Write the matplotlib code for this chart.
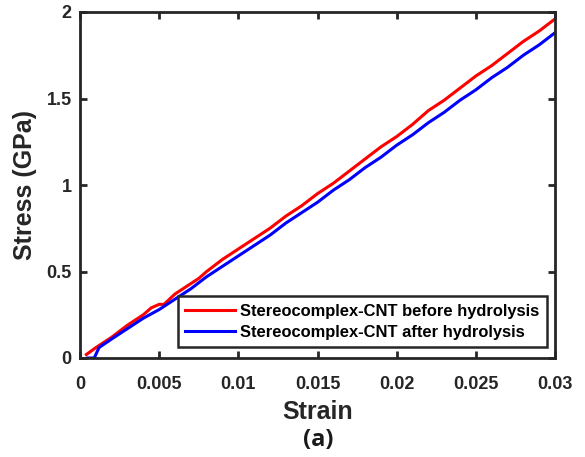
import matplotlib
matplotlib.use("Agg")
import matplotlib.pyplot as plt
from matplotlib.ticker import FixedLocator, FixedFormatter

plt.rcParams['font.family'] = ['Liberation Sans', 'DejaVu Sans']

red_x = [0.0004, 0.001, 0.002, 0.003, 0.004, 0.0045, 0.005, 0.0053, 0.006, 0.007, 0.0075, 0.008,
         0.009, 0.010, 0.011, 0.012, 0.013, 0.014, 0.015, 0.016, 0.017, 0.018, 0.019, 0.020,
         0.021, 0.022, 0.023, 0.024, 0.025, 0.026, 0.027, 0.028, 0.029, 0.030]
red_y = [0.02, 0.06, 0.12, 0.19, 0.25, 0.29, 0.31, 0.31, 0.37, 0.43, 0.46, 0.50,
         0.57, 0.63, 0.69, 0.75, 0.82, 0.88, 0.95, 1.01, 1.08, 1.15, 1.22, 1.28,
         1.35, 1.43, 1.49, 1.56, 1.63, 1.69, 1.76, 1.83, 1.89, 1.96]
blue_x = [0.0005, 0.0009, 0.0012, 0.002, 0.003, 0.004, 0.005, 0.006, 0.007, 0.008, 0.009, 0.010,
          0.011, 0.012, 0.013, 0.014, 0.015, 0.016, 0.017, 0.018, 0.019, 0.020, 0.021, 0.022,
          0.023, 0.024, 0.025, 0.026, 0.027, 0.028, 0.029, 0.030]
blue_y = [0.0, 0.0, 0.06, 0.11, 0.17, 0.23, 0.28, 0.34, 0.40, 0.47, 0.53, 0.59,
          0.65, 0.71, 0.78, 0.84, 0.90, 0.97, 1.03, 1.10, 1.16, 1.23, 1.29, 1.36,
          1.42, 1.49, 1.55, 1.62, 1.68, 1.75, 1.81, 1.88]
labels = ["Stereocomplex-CNT before hydrolysis", "Stereocomplex-CNT after hydrolysis"]
x_ticks = [0, 0.005, 0.01, 0.015, 0.02, 0.025, 0.03]
x_ticklabels = ["0", "0.005", "0.01", "0.015", "0.02", "0.025", "0.03"]
y_ticks = [0, 0.5, 1, 1.5, 2]
y_ticklabels = ["0", "0.5", "1", "1.5", "2"]

fig = plt.figure(figsize=(5.85, 4.57), dpi=100)
ax = fig.add_axes([80/585, 1-358/457, 475/585, 346/457])
ax.plot(red_x, red_y, color='#ff0000', lw=2.2, label=labels[0])
ax.plot(blue_x, blue_y, color='#0000ff', lw=2.2, label=labels[1])
ax.set_xlim(0, 0.03)
ax.set_ylim(0, 2)
ax.xaxis.set_major_locator(FixedLocator(x_ticks))
ax.xaxis.set_major_formatter(FixedFormatter(x_ticklabels))
ax.yaxis.set_major_locator(FixedLocator(y_ticks))
ax.yaxis.set_major_formatter(FixedFormatter(y_ticklabels))
gc = '#262626'
for s in ax.spines.values():
    s.set_linewidth(2.0)
    s.set_color(gc)
ax.tick_params(direction='in', length=5, width=2, colors=gc, top=True, right=True,
               labelsize=13)
ax.tick_params(axis='x', pad=13)
ax.tick_params(axis='y', pad=6)
for t in ax.get_xticklabels() + ax.get_yticklabels():
    t.set_fontweight('bold')
ax.set_xlabel("Strain", fontsize=18, fontweight='bold', color=gc, labelpad=5)
ax.set_ylabel("Stress (GPa)", fontsize=18, fontweight='bold', color=gc, labelpad=7)
fig.text(318/585, 1-440/457, "(a)", fontsize=17, fontweight='bold', color='#1a1a1a',
         ha='center', va='center', family=['Open Sans', 'DejaVu Sans'])
leg = ax.legend(loc='lower right', bbox_to_anchor=(547/585, 1-347/457),
                bbox_transform=fig.transFigure, fontsize=11.9, handlelength=3.0,
                borderaxespad=0, fancybox=False, framealpha=1, borderpad=0.45,
                labelspacing=0.35, handletextpad=0.35)
leg.get_frame().set_edgecolor(gc)
leg.get_frame().set_linewidth(1.8)
for t in leg.get_texts():
    t.set_fontweight('bold')
    t.set_color('black')
fig.savefig("out.png", dpi=100)
